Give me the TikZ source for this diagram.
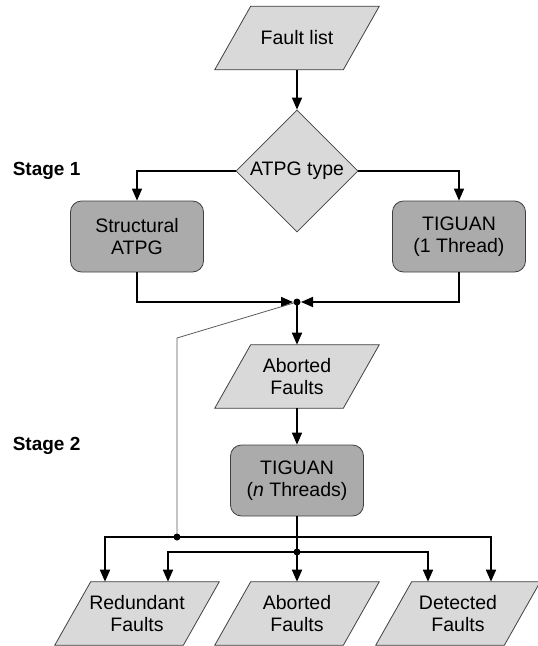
\documentclass[tikz,border=0pt]{standalone}
\usepackage{fontspec}
\setmainfont{Liberation Sans}
\usepackage{tikz}
\usetikzlibrary{shapes.geometric}
\usetikzlibrary{arrows.meta}
\usetikzlibrary{backgrounds}
\definecolor{lightfill}{gray}{0.85}
\definecolor{darkfill}{gray}{0.67}
\definecolor{rimgray}{gray}{0.25}
\tikzset{datanode/.style={rectangle,minimum width=127pt,minimum height=62pt,inner sep=0pt,align=center}}
\tikzset{dataslant/.style={draw=rimgray,line width=0.8pt,fill=lightfill}}
\tikzset{procnode/.style={rectangle,rounded corners=11pt,draw=rimgray,line width=0.8pt,fill=darkfill,minimum width=133pt,minimum height=71pt,align=center}}
\tikzset{choice/.style={diamond,draw=rimgray,line width=0.8pt,fill=lightfill,minimum width=122pt,minimum height=122pt,inner sep=0pt}}
\tikzset{stagelabel/.style={anchor=west,inner sep=0pt,font=\fontsize{19}{22}\selectfont\bfseries}}
\begin{document}
\begin{tikzpicture}[x=1pt,y=-1pt,>={Triangle[length=12pt,width=10pt]},line width=1.6pt,font=\fontsize{19.5}{22}\selectfont]
		\useasboundingbox (0,0) rectangle (538,646);
		\node[datanode] (fl) at (297,38) {Fault list};
		\node[choice] (type) at (297,171) {ATPG type};
		\node[procnode] (sa) at (137,236.5) {Structural\\ATPG};
		\node[procnode] (t1) at (459,236.5) {TIGUAN\\(1 Thread)};
		\node[datanode] (ab) at (297,376.5) {Aborted\\Faults};
		\node[procnode] (tn) at (297,480.5) {TIGUAN\\(\textit{n} Threads)};
		\node[datanode] (rf) at (137,613.5) {Redundant\\Faults};
		\node[datanode] (af) at (297,613.5) {Aborted\\Faults};
		\node[datanode] (df) at (458,613.5) {Detected\\Faults};
		\node[stagelabel] (s1) at (12,171) {Stage 1};
		\node[stagelabel] (s2) at (12,446) {Stage 2};
		% slanted outlines of the data nodes
		\begin{scope}[on background layer]
			\foreach \n in {fl,ab,rf,af,df}
				\draw[dataslant] ([xshift=-18pt]\n.south west) -- ([xshift=-18pt]\n.south east) -- ([xshift=18pt]\n.north east) -- ([xshift=18pt]\n.north west) -- cycle;
		\end{scope}
		\coordinate (j) at (297,302);
		\coordinate (bend) at (177,338);
		\coordinate (jl) at (177,537);
		\coordinate (jm) at (297,552);
		\path [->] (fl) edge (type);
		\draw [->] (type.west) -| (sa.north);
		\draw [->] (type.east) -| (t1.north);
		\draw [->,shorten >=4pt] (sa.south) |- (j);
		\draw [->,shorten >=4pt] (t1.south) |- (j);
		\draw [->] (j) -- (ab.north);
		\path [->] (ab) edge (tn);
		\draw [line width=0.8pt,gray!70!black] (j) -- (bend) -- (jl);
		\draw (tn.south) -- (jm);
		\draw [->] (jl) -| ([xshift=-32pt]rf.north);
		\draw [->] (jl) -| ([xshift=33pt]df.north);
		\draw [->] (jm) -| ([xshift=31pt]rf.north);
		\draw [->] (jm) -| ([xshift=-30pt]df.north);
		\draw [->] (jm) -- (af.north);
		\fill (j) circle (3.5pt);
		\fill (jl) circle (3.5pt);
		\fill (jm) circle (3.5pt);
	\end{tikzpicture}
\end{document}
